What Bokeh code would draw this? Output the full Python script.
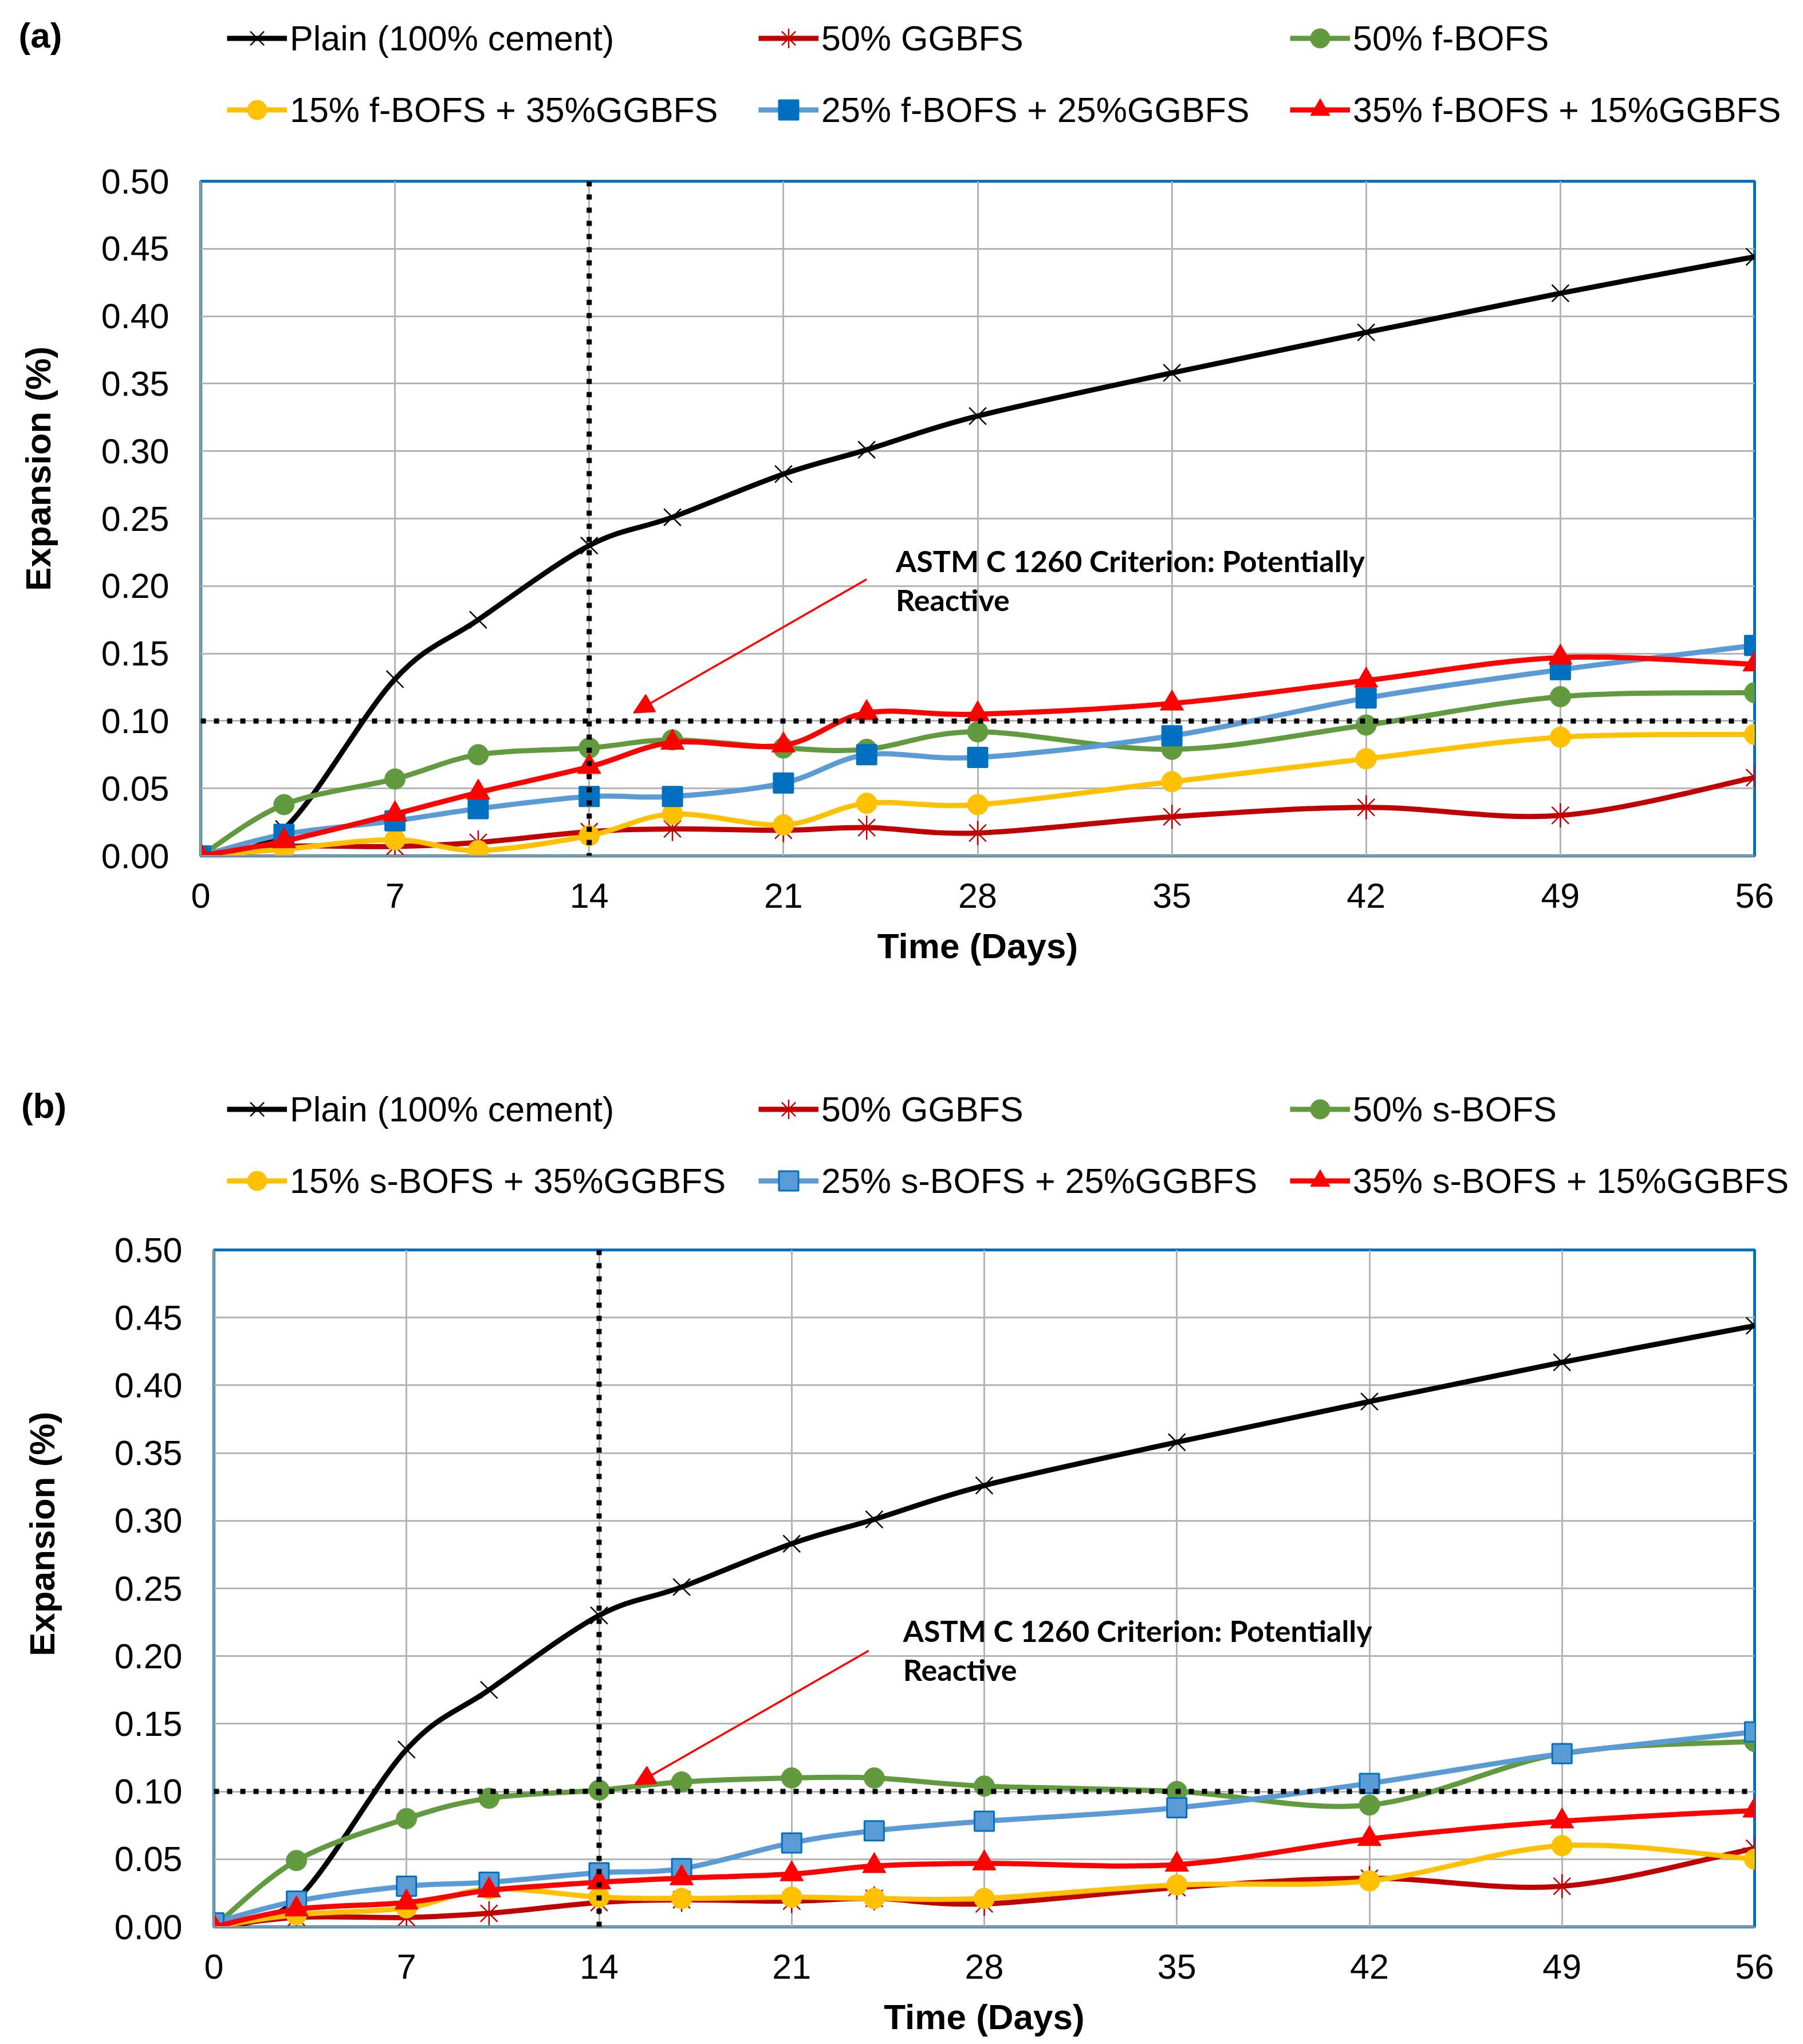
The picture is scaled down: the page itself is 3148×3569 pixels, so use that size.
import math
from bokeh.plotting import figure
from bokeh.models import (Range1d, FixedTicker, NumeralTickFormatter, Span, Label,
                          Arrow, NormalHead, Legend, LegendItem)
from bokeh.layouts import column, row
from bokeh.embed import file_html
from bokeh.resources import INLINE

# ---------------- data ----------------
days = [0, 3, 7, 10, 14, 17, 21, 24, 28, 35, 42, 49, 56]

plain = [0.0, 0.020, 0.131, 0.175, 0.230, 0.251, 0.283, 0.301, 0.326, 0.358, 0.388, 0.417, 0.444]
ggbfs50 = [0.0, 0.007, 0.007, 0.010, 0.018, 0.020, 0.019, 0.021, 0.017, 0.029, 0.036, 0.030, 0.058]

# panel (a): f-BOFS
f_bofs50 = [0.0, 0.038, 0.057, 0.075, 0.080, 0.086, 0.080, 0.079, 0.092, 0.079, 0.097, 0.118, 0.121]
f15_g35 = [0.0, 0.005, 0.012, 0.004, 0.015, 0.031, 0.023, 0.039, 0.038, 0.055, 0.072, 0.088, 0.090]
f25_g25 = [0.0, 0.016, 0.026, 0.035, 0.044, 0.044, 0.054, 0.075, 0.073, 0.089, 0.117, 0.138, 0.156]
f35_g15 = [0.0, 0.011, 0.031, 0.047, 0.066, 0.084, 0.082, 0.106, 0.105, 0.113, 0.130, 0.147, 0.142]

# panel (b): s-BOFS
s_bofs50 = [0.0, 0.049, 0.080, 0.095, 0.101, 0.107, 0.110, 0.110, 0.104, 0.100, 0.090, 0.128, 0.137]
s15_g35 = [0.0, 0.009, 0.014, 0.028, 0.022, 0.021, 0.022, 0.021, 0.021, 0.031, 0.034, 0.060, 0.050]
s25_g25 = [0.003, 0.019, 0.030, 0.033, 0.040, 0.043, 0.062, 0.071, 0.078, 0.088, 0.106, 0.128, 0.144]
s35_g15 = [0.0, 0.013, 0.018, 0.027, 0.033, 0.036, 0.039, 0.045, 0.047, 0.046, 0.065, 0.078, 0.086]

labels_a = ["Plain (100% cement)", "50% GGBFS", "50% f-BOFS",
            "15% f-BOFS + 35%GGBFS", "25% f-BOFS + 25%GGBFS", "35% f-BOFS + 15%GGBFS"]
labels_b = ["Plain (100% cement)", "50% GGBFS", "50% s-BOFS",
            "15% s-BOFS + 35%GGBFS", "25% s-BOFS + 25%GGBFS", "35% s-BOFS + 15%GGBFS"]

x_ticks = [0, 7, 14, 21, 28, 35, 42, 49, 56]
y_ticks = [0.0, 0.05, 0.10, 0.15, 0.20, 0.25, 0.30, 0.35, 0.40, 0.45, 0.50]
criterion = 0.10
marker_day = 14
note_line1 = "ASTM C 1260  Criterion: Potentially"
note_line2 = "Reactive"
x_title = "Time (Days)"
y_title = "Expansion (%)"

# ---------------- styles ----------------
BLACK = "#000000"
DRED = "#C00000"
GREEN = "#629B3F"
YELLOW = "#FFC000"
LBLUE = "#5B9BD5"
DBLUE = "#0070C0"
RED = "#FF0000"
FONT = "Liberation Sans"
LINE_W = 9
NAN = float("nan")
TOTAL_W = 3140
SIDE_W = 120
HEAD_H = 260


def styles(panel):
    sq_fill = DBLUE if panel == "a" else LBLUE
    return [
        dict(color=BLACK, marker="x", size=42, fill=BLACK, mline=BLACK, mlw=2.5),
        dict(color=DRED, marker="asterisk", size=42, fill=DRED, mline=DRED, mlw=2.5),
        dict(color=GREEN, marker="circle", size=36, fill=GREEN, mline=GREEN, mlw=1),
        dict(color=YELLOW, marker="circle", size=36, fill=YELLOW, mline=YELLOW, mlw=1),
        dict(color=LBLUE, marker="square", size=34, fill=sq_fill, mline=DBLUE, mlw=3),
        dict(color=RED, marker="triangle", size=41, fill=RED, mline=RED, mlw=1),
    ]


def smooth_segments(xs, ys):
    """Bezier control points (Catmull-Rom style) for a smoothed line through the data points."""
    n = len(xs)
    d = dict(x0=[], y0=[], x1=[], y1=[], cx0=[], cy0=[], cx1=[], cy1=[])
    for i in range(n - 1):
        ip, inn = max(i - 1, 0), min(i + 2, n - 1)
        d["x0"].append(xs[i]); d["y0"].append(ys[i])
        d["x1"].append(xs[i + 1]); d["y1"].append(ys[i + 1])
        d["cx0"].append(xs[i] + (xs[i + 1] - xs[ip]) / 6.0)
        d["cy0"].append(ys[i] + (ys[i + 1] - ys[ip]) / 6.0)
        d["cx1"].append(xs[i + 1] - (xs[inn] - xs[i]) / 6.0)
        d["cy1"].append(ys[i + 1] - (ys[inn] - ys[i]) / 6.0)
    return d


def blank_fig(w, h):
    f = figure(width=w, height=h, output_backend="svg", toolbar_location=None,
               x_range=Range1d(0, 1), y_range=Range1d(0, 1),
               x_axis_type=None, y_axis_type=None, min_border=0)
    f.outline_line_color = None
    f.background_fill_color = "white"
    f.border_fill_color = "white"
    return f


def make_header(labels, panel, tag_xy):
    h = blank_fig(TOTAL_W, HEAD_H)
    items = []
    for lab, st in zip(labels, styles(panel)):
        # legend swatches only (no visible data in the header)
        rb = h.bezier(x0=[NAN], y0=[NAN], x1=[NAN], y1=[NAN], cx0=[NAN], cy0=[NAN],
                      cx1=[NAN], cy1=[NAN], line_color=st["color"], line_width=LINE_W)
        rs = h.scatter(x=[NAN], y=[NAN], marker=st["marker"], size=st["size"],
                       fill_color=st["fill"], line_color=st["mline"], line_width=st["mlw"])
        items.append(LegendItem(label=lab, renderers=[rb, rs]))
    legend = Legend(items=items, location=(396, 26), orientation="horizontal", ncols=3,
                    glyph_width=105, glyph_height=85, label_standoff=5,
                    label_width=778, label_height=80, spacing=40, padding=10, margin=0,
                    border_line_color=None, background_fill_alpha=0,
                    label_text_font=FONT, label_text_font_size="61px",
                    label_text_color="#000000")
    h.add_layout(legend, "center")
    h.add_layout(Label(x=tag_xy[0], y=tag_xy[1], x_units="screen", y_units="screen",
                       text="(%s)" % panel, text_font=FONT, text_font_style="bold",
                       text_font_size="62px", text_color="#000000",
                       text_align="center", text_baseline="middle"))
    return h


def make_side(H, lab_xy):
    # its frame is aligned with the neighbouring chart's frame; y is measured from frame bottom
    s = blank_fig(SIDE_W, H)
    s.add_layout(Label(x=lab_xy[0], y=lab_xy[1], x_units="screen", y_units="screen",
                       text=y_title, angle=math.pi / 2, text_font=FONT, text_font_style="bold",
                       text_font_size="62px", text_color="#000000",
                       text_align="center", text_baseline="middle"))
    return s


def make_main(series, panel, H, bl, bt, bb, arrow_pts):
    p = figure(width=TOTAL_W - SIDE_W, height=H, output_backend="svg", toolbar_location=None,
               x_range=Range1d(0, 56), y_range=Range1d(0, 0.5),
               min_border_left=bl, min_border_right=77, min_border_top=bt, min_border_bottom=bb)
    p.background_fill_color = "white"
    p.border_fill_color = "white"
    p.outline_line_color = DBLUE
    p.outline_line_width = 5

    p.xaxis.ticker = FixedTicker(ticks=x_ticks)
    p.yaxis.ticker = FixedTicker(ticks=y_ticks)
    p.yaxis.formatter = NumeralTickFormatter(format="0.00")
    for ax in (p.xaxis, p.yaxis):
        ax.major_tick_line_color = None
        ax.minor_tick_line_color = None
        ax.major_tick_out = 0
        ax.major_tick_in = 0
        ax.axis_line_color = "#9A9A9A"
        ax.axis_line_width = 3
        ax.major_label_text_font = FONT
        ax.major_label_text_font_size = "61px"
        ax.major_label_text_color = "#000000"
    p.yaxis.major_label_standoff = 55
    p.xaxis.major_label_standoff = 48
    p.xaxis.axis_label = x_title
    p.xaxis.axis_label_text_font = FONT
    p.xaxis.axis_label_text_font_style = "bold"
    p.xaxis.axis_label_text_font_size = "62px"
    p.xaxis.axis_label_text_color = "#000000"
    p.xaxis.axis_label_standoff = 29

    p.xgrid.ticker = FixedTicker(ticks=x_ticks)
    p.ygrid.ticker = FixedTicker(ticks=y_ticks)
    for g in (p.xgrid, p.ygrid):
        g.grid_line_color = "#B4B4B4"
        g.grid_line_width = 3

    for ys, st in zip(series, styles(panel)):
        p.bezier(line_color=st["color"], line_width=LINE_W, line_cap="round",
                 **smooth_segments(days, ys))
        p.scatter(days, ys, marker=st["marker"], size=st["size"],
                  fill_color=st["fill"], line_color=st["mline"], line_width=st["mlw"])

    p.add_layout(Span(location=criterion, dimension="width", line_color="black",
                      line_width=9, line_dash="9 14"))
    p.add_layout(Span(location=marker_day, dimension="height", line_color="black",
                      line_width=9, line_dash="9 14"))

    (xs0, ys0, xe, ye) = arrow_pts
    p.add_layout(Arrow(end=NormalHead(size=34, fill_color=RED, line_color=RED, line_width=2),
                       x_start=xs0, y_start=ys0, x_end=xe, y_end=ye,
                       line_color=RED, line_width=3.5))
    for txt, yy in ((note_line1, 0.219), (note_line2, 0.190)):
        p.add_layout(Label(x=25.05, y=yy, text=txt, text_font="Lato", text_font_style="bold",
                           text_font_size="52px", text_color="#000000",
                           text_align="left", text_baseline="middle"))
    return p


H_A, H_B = 1610, 1430
head_a = make_header(labels_a, "a", tag_xy=(70, 199))
side_a = make_side(H_A, lab_xy=(66, 676))
main_a = make_main([plain, ggbfs50, f_bofs50, f15_g35, f25_g25, f35_g15], "a",
                   H=H_A, bl=230, bt=56, bb=376, arrow_pts=(24.0, 0.205, 15.6, 0.106))

head_b = make_header(labels_b, "b", tag_xy=(76, 200))
side_b = make_side(H_B, lab_xy=(73, 686))
main_b = make_main([plain, ggbfs50, s_bofs50, s15_g35, s25_g25, s35_g15], "b",
                   H=H_B, bl=253, bt=52, bb=196, arrow_pts=(23.8, 0.204, 15.3, 0.105))

layout = column(head_a, row(side_a, main_a), head_b, row(side_b, main_b))
open("out.html", "w").write(file_html(layout, INLINE))
